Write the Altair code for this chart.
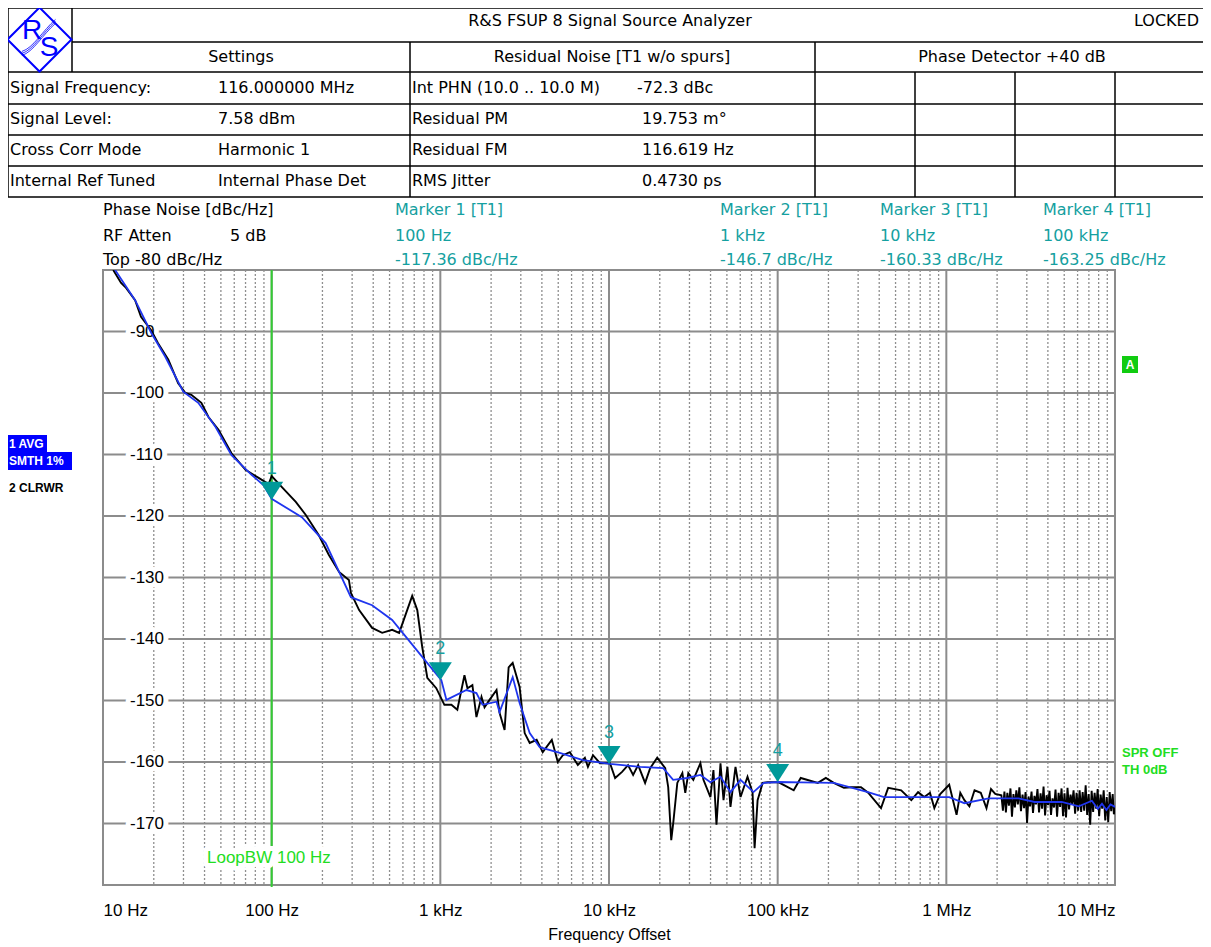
import altair as alt
import pandas as pd

# ---------------- data ----------------
# Trace 2 (CLRWR, black): (offset frequency Hz, phase noise dBc/Hz)
trace2 = [
    (11.5, -80.0), (12.8, -82.1), (13.7, -82.9), (15.5, -84.9), (16.8, -87.6),
    (19.3, -89.8), (21.2, -91.9), (24.4, -94.6), (27.9, -98.4), (30.8, -100.0),
    (33.4, -100.3), (38.3, -101.6), (42.2, -103.9), (48.4, -106.0), (57.8, -109.8),
    (70.0, -112.5), (83.7, -113.8), (96.0, -114.8), (100, -113.5), (115, -115.3),
    (139, -117.7), (159, -119.8), (190, -123.1), (218, -126.3), (251, -129.1),
    (287, -130.4), (295, -132.5), (330, -135.3), (394, -138.2), (452, -139.0),
    (518, -138.5), (570, -139.0), (681, -133.0), (730, -135.3), (781, -141.3),
    (837, -146.3), (946, -148.0), (1057, -150.7), (1163, -150.7), (1261, -151.5),
    (1390, -145.9), (1448, -148.0), (1549, -147.5), (1637, -152.7), (1754, -149.4),
    (1828, -151.1), (1958, -149.9), (2154, -148.3), (2244, -152.0), (2404, -154.8),
    (2541, -144.6), (2685, -143.9), (2951, -147.8), (3162, -155.3), (3388, -156.9),
    (3724, -156.4), (4046, -158.4), (4581, -156.4), (4971, -160.0), (5324, -158.9),
    (5861, -158.4), (6535, -160.5), (7194, -159.3), (7500, -160.8), (8035, -158.9),
    (8837, -160.2), (10140, -160.2), (10870, -162.6), (11950, -161.6), (12970, -160.5),
    (13900, -162.1), (14890, -160.5), (16370, -163.4), (17540, -161.0), (19320, -159.3),
    (21540, -161.0), (22440, -164.1), (23390, -172.7), (24040, -169.9), (25410, -163.4),
    (27230, -161.8), (28330, -165.0), (29530, -161.8), (31620, -162.9), (34830, -160.2),
    (36310, -162.9), (39930, -165.7), (41610, -161.3), (43370, -170.2), (45810, -160.2),
    (47750, -166.2), (50370, -160.8), (52500, -167.3), (56230, -160.8), (60250, -165.7),
    (66250, -162.4), (70990, -165.0), (72970, -174.0), (76040, -166.2), (81470, -163.4),
    (87160, -163.3), (101400, -163.3), (124500, -164.6), (137000, -162.6), (173000, -163.4),
    (193000, -162.6), (215000, -163.4), (247000, -164.2), (272000, -164.1), (312000, -164.1),
    (344000, -165.0), (410000, -167.5), (452000, -164.2), (540000, -164.6), (620000, -166.2),
    (680000, -164.9), (740000, -165.7), (800000, -165.0), (849000, -167.5), (920000, -165.2),
    (1040000, -163.7), (1150000, -168.6), (1210000, -165.0), (1280000, -166.2), (1370000, -167.2),
    (1470000, -164.6), (1600000, -165.0), (1730000, -167.5), (1840000, -164.4), (1950000, -165.2),
    (2120000, -165.4), (2165000, -167.9), (2210000, -164.8), (2255000, -168.2), (2300000, -165.0),
    (2350000, -167.1), (2400000, -164.3), (2450000, -168.9), (2500000, -165.2), (2550000, -167.4),
    (2600000, -164.6), (2655000, -166.9), (2710000, -164.1), (2770000, -168.0), (2830000, -165.3),
    (2890000, -167.5), (2950000, -164.9), (3010000, -169.9), (3070000, -165.6), (3135000, -167.2),
    (3200000, -164.8), (3265000, -168.3), (3330000, -165.5), (3400000, -166.9), (3470000, -164.4),
    (3545000, -168.2), (3620000, -165.1), (3695000, -167.6), (3770000, -164.0), (3850000, -168.7),
    (3930000, -165.4), (4010000, -167.0), (4090000, -164.7), (4175000, -168.6), (4260000, -165.9),
    (4350000, -167.4), (4440000, -164.5), (4535000, -168.9), (4630000, -165.0), (4725000, -167.3),
    (4820000, -164.3), (4920000, -168.8), (5020000, -165.1), (5125000, -169.0), (5230000, -164.2),
    (5340000, -167.7), (5450000, -165.3), (5565000, -166.8), (5680000, -164.6), (5800000, -168.4),
    (5920000, -165.0), (6045000, -167.9), (6170000, -164.6), (6300000, -168.1), (6430000, -164.9),
    (6565000, -167.9), (6700000, -163.8), (6840000, -168.6), (6980000, -165.2), (7125000, -170.2),
    (7270000, -164.7), (7420000, -168.1), (7570000, -165.0), (7730000, -167.6), (7890000, -164.4),
    (8055000, -168.8), (8220000, -165.3), (8395000, -167.6), (8570000, -164.6), (8750000, -169.5),
    (8930000, -165.7), (9115000, -169.8), (9300000, -164.9), (9495000, -168.0), (9690000, -165.2),
    (9850000, -168.5), (10000000, -167.3),
]

# Trace 1 (AVG, smoothed 1 %, blue)
trace1 = [
    (11.8, -80.0), (15.5, -84.9), (19.3, -90.2), (23.4, -94.1), (29.9, -99.8),
    (36.7, -101.6), (46.4, -105.5), (57.8, -110.1), (76, -113.3), (89.6, -115.0),
    (100, -117.2), (151, -120.2), (209, -124.4), (295, -133.2), (394, -134.5),
    (518, -136.9), (781, -142.9), (1014, -146.7), (1087, -149.9), (1429, -148.3),
    (1637, -148.8), (1778, -150.7), (2154, -150.2), (2244, -151.9), (2685, -146.2),
    (2951, -150.4), (3388, -155.3), (3882, -157.6), (5102, -158.5), (7000, -159.7),
    (10140, -160.3), (15300, -160.8), (20960, -161.0), (24000, -162.9), (29100, -162.6),
    (34800, -162.1), (39900, -163.3), (45800, -162.4), (52500, -164.9), (60200, -162.9),
    (71900, -164.9), (82600, -163.4), (101500, -163.25), (137000, -163.3), (215000, -163.4),
    (343000, -164.9), (427000, -165.7), (681000, -165.7), (1040000, -165.7), (1280000, -166.7),
    (1780000, -165.9), (2680000, -165.9), (3340000, -166.5), (4830000, -166.5), (6100000, -167.2),
    (7290000, -166.3), (7900000, -167.6), (8370000, -166.8), (8900000, -167.8), (9400000, -166.9),
    (10000000, -167.3),
]

marker_num = ["1", "2", "3", "4"]
marker_freq = [100, 1000, 10000, 100000]
marker_level = [-117.36, -146.7, -160.33, -163.25]
marker_name = ["Marker 1 [T1]", "Marker 2 [T1]", "Marker 3 [T1]", "Marker 4 [T1]"]
marker_freq_txt = ["100 Hz", "1 kHz", "10 kHz", "100 kHz"]
marker_level_txt = ["-117.36 dBc/Hz", "-146.7 dBc/Hz", "-160.33 dBc/Hz", "-163.25 dBc/Hz"]

x_ticks = [10, 100, 1000, 10000, 100000, 1000000, 10000000]
x_tick_labels = ["10 Hz", "100 Hz", "1 kHz", "10 kHz", "100 kHz", "1 MHz", "10 MHz"]
y_ticks = [-90, -100, -110, -120, -130, -140, -150, -160, -170]
major_grid = [100, 1000, 10000, 100000, 1000000]
minor_grid = [m * 10 ** e for e in range(1, 7) for m in range(2, 10)]
loop_bw = [100]

title_txt = "R&S FSUP 8 Signal Source Analyzer"
status_txt = "LOCKED"
section_titles = ["Settings", "Residual Noise [T1 w/o spurs]", "Phase Detector +40 dB"]
settings_labels = ["Signal Frequency:", "Signal Level:", "Cross Corr Mode", "Internal Ref Tuned"]
settings_values = ["116.000000 MHz", "7.58 dBm", "Harmonic 1", "Internal Phase Det"]
resid_labels = ["Int PHN (10.0  .. 10.0 M)", "Residual PM", "Residual FM", "RMS Jitter"]
resid_values = ["-72.3 dBc", "19.753 m\u00b0", "116.619 Hz", "0.4730 ps"]
info_lines = ["Phase Noise [dBc/Hz]", "RF Atten", "Top  -80 dBc/Hz"]
rf_atten = "5 dB"

# ---------------- layout helpers ----------------
OX, OY = 103, 270          # page position of the plot origin
W, H = 1012, 615
SANS = "Liberation Sans"
HFONT = "DejaVu Sans"
TEAL = "#15a0a0"
GREEN = "#22dd22"
GRID = "#8c8c8c"
one = pd.DataFrame({"k": [0]})


def px(x):
    return x - OX


def py(y):
    return y - OY


def text(s, x, y, size=16, color="black", font=HFONT, align="left", weight="normal"):
    return alt.Chart(pd.DataFrame({"t": [s]})).mark_text(
        align=align, baseline="middle", font=font, fontSize=size, color=color, fontWeight=weight
    ).encode(x=alt.value(px(x)), y=alt.value(py(y)), text="t:N")


def hline(x1, x2, y, w=1.5):
    return alt.Chart(one).mark_rule(color="black", strokeWidth=w).encode(
        x=alt.value(px(x1)), x2=alt.value(px(x2)), y=alt.value(py(y)))


def vline(x, y1, y2, w=1.5):
    return alt.Chart(one).mark_rule(color="black", strokeWidth=w).encode(
        x=alt.value(px(x)), y=alt.value(py(y1)), y2=alt.value(py(y2)))


def box(x1, y1, x2, y2, color):
    return alt.Chart(one).mark_rect(color=color).encode(
        x=alt.value(px(x1)), x2=alt.value(px(x2)), y=alt.value(py(y1)), y2=alt.value(py(y2)))


XS = alt.Scale(type="log", domain=[10, 10000000], nice=False)
YS = alt.Scale(domain=[-180, -80], nice=False, zero=False)

parts = [f"datum.value == {v} ? '{l}'" for v, l in zip(x_ticks, x_tick_labels)]
label_expr = " : ".join(parts) + " : ''"
XAXIS = alt.Axis(values=x_ticks, labelExpr=label_expr, grid=False, ticks=False, domain=False,
                 labelFlush=True, labelFont=SANS, labelFontSize=17, labelColor="black",
                 labelPadding=17, title="Frequency Offset", titleFont=SANS, titleFontSize=16,
                 titleFontWeight="normal", titleColor="black", titlePadding=8)


def X():
    return alt.X("f:Q", scale=XS, axis=XAXIS)


def Y():
    return alt.Y("db:Q", scale=YS, axis=None)


layers = []

# grid
layers.append(alt.Chart(pd.DataFrame({"f": minor_grid})).mark_rule(
    color="#8f8f8f", strokeWidth=1.3, strokeDash=[2, 2]).encode(x=X()))
layers.append(alt.Chart(pd.DataFrame({"f": major_grid})).mark_rule(
    color=GRID, strokeWidth=2).encode(x=X()))
layers.append(alt.Chart(pd.DataFrame({"db": y_ticks})).mark_rule(
    color=GRID, strokeWidth=2).encode(y=Y()))

# y labels inside the plot, on white
ylab_df = pd.DataFrame({"db": y_ticks, "lab": [str(v) for v in y_ticks]})
layers.append(alt.Chart(ylab_df).mark_text(
    align="left", baseline="middle", font=SANS, fontSize=17, color="white",
    stroke="white", strokeWidth=10, strokeJoin="round").encode(
    x=alt.value(27), y=Y(), text="lab:N"))
layers.append(alt.Chart(ylab_df).mark_text(
    align="left", baseline="middle", font=SANS, fontSize=17, color="black").encode(
    x=alt.value(27), y=Y(), text="lab:N"))

# loop bandwidth line
layers.append(alt.Chart(pd.DataFrame({"f": loop_bw})).mark_rule(color="#33cc33", strokeWidth=2).encode(
    x=X(), y=alt.value(0), y2=alt.value(H + 2)))
loop_txt = f"LoopBW {loop_bw[0]} Hz"
layers.append(alt.Chart(pd.DataFrame({"t": [loop_txt]})).mark_text(
    align="left", baseline="middle", font=SANS, fontSize=17, color="white",
    stroke="white", strokeWidth=10, strokeJoin="round").encode(
    x=alt.value(px(207)), y=alt.value(py(858)), text="t:N"))
layers.append(text(loop_txt, 207, 858, size=17, color=GREEN, font=SANS))

# traces
df2 = pd.DataFrame(trace2, columns=["f", "db"])
df1 = pd.DataFrame(trace1, columns=["f", "db"])
layers.append(alt.Chart(df2).mark_line(color="black", strokeWidth=1.9, clip=True).encode(x=X(), y=Y()))
layers.append(alt.Chart(df1).mark_line(color="#1f35ee", strokeWidth=1.8, clip=True).encode(x=X(), y=Y()))

# markers
mdf = pd.DataFrame({"f": marker_freq, "db": marker_level, "n": marker_num})
TRI = "M-1,-1.565L1,-1.565L0,0Z"
layers.append(alt.Chart(mdf).mark_point(shape=TRI, size=529, filled=True, color="#009999", opacity=1).encode(
    x=X(), y=Y()))
layers.append(alt.Chart(mdf).mark_text(dy=-31, font=SANS, fontSize=18, color=TEAL, baseline="middle").encode(
    x=X(), y=Y(), text="n:N"))

# side labels
layers.append(box(8, 435, 47, 452, "#0000ff"))
layers.append(box(8, 452, 72, 470, "#0000ff"))
layers.append(text("1 AVG", 9, 444, size=12, color="white", font=SANS, weight="bold"))
layers.append(text("SMTH 1%", 9, 461, size=12, color="white", font=SANS, weight="bold"))
layers.append(text("2 CLRWR", 9, 488, size=12, color="black", font=SANS, weight="bold"))
layers.append(box(1122, 356, 1138, 373, "#11cc11"))
layers.append(text("A", 1130, 365, size=12, color="white", font=SANS, weight="bold", align="center"))
layers.append(text("SPR OFF", 1122, 753, size=13, color=GREEN, font=SANS, weight="bold"))
layers.append(text("TH 0dB", 1122, 770, size=13, color=GREEN, font=SANS, weight="bold"))

# info lines above plot
info_y = [210, 236, 260]
for s, y in zip(info_lines, info_y):
    layers.append(text(s, 103, y))
layers.append(text(rf_atten, 230, 236))
marker_x = [395, 720, 880, 1043]
for i, x in enumerate(marker_x):
    layers.append(text(marker_name[i], x, 210, color=TEAL))
    layers.append(text(marker_freq_txt[i], x, 236, color=TEAL))
    layers.append(text(marker_level_txt[i], x, 260, color=TEAL))

# header table lines
layers.append(hline(8, 1211, 8))
layers.append(hline(72, 1211, 42))
for y in [72, 104, 135, 166, 197]:
    layers.append(hline(8, 1211, y))
layers.append(vline(8, 8, 197))
layers.append(vline(72, 8, 72))
layers.append(vline(410, 42, 197))
layers.append(vline(815, 42, 197))
for x in [915, 1015, 1115]:
    layers.append(vline(x, 72, 197))

# logo
LOGO_BLUE = "#0000ff"
layers.append(alt.Chart(one).mark_point(shape="M0,-1L1,0L0,1L-1,0Z", size=4096, filled=False,
                                        stroke=LOGO_BLUE, strokeWidth=2, opacity=1).encode(
    x=alt.value(px(39.5)), y=alt.value(py(39.5))))
for dy in [-2, 0, 2]:
    layers.append(alt.Chart(one).mark_point(
        shape="M-0.55,0.45C-0.2,0.35 0.1,-0.2 0.5,-0.55", size=4096, filled=False,
        stroke=LOGO_BLUE, strokeWidth=0.8, opacity=1).encode(
        x=alt.value(px(39.5)), y=alt.value(py(39 + dy))))
layers.append(text("R", 32, 31, size=28, color=LOGO_BLUE, font=SANS, align="center"))
layers.append(text("S", 49, 48, size=28, color=LOGO_BLUE, font=SANS, align="center"))

# header table text
layers.append(text(title_txt, 610, 21, align="center"))
layers.append(text(status_txt, 1199, 21, align="right"))
layers.append(text(section_titles[0], 241, 57, align="center"))
layers.append(text(section_titles[1], 612, 57, align="center"))
layers.append(text(section_titles[2], 1012, 57, align="center"))
row_y = [88, 119, 150, 181]
for i, y in enumerate(row_y):
    layers.append(text(settings_labels[i], 10, y))
    layers.append(text(settings_values[i], 218, y))
    layers.append(text(resid_labels[i], 412, y))
    layers.append(text(resid_values[i], 637 if i == 0 else 642, y))

chart = alt.layer(*layers).properties(
    width=W, height=H,
    autosize=alt.AutoSizeParams(type="none"),
    padding={"left": 95, "top": 262, "right": 88, "bottom": 62},
    background="white",
).configure_view(stroke=GRID, strokeWidth=2)

chart.save("out.html", embed_options={"renderer": "svg", "actions": False})
